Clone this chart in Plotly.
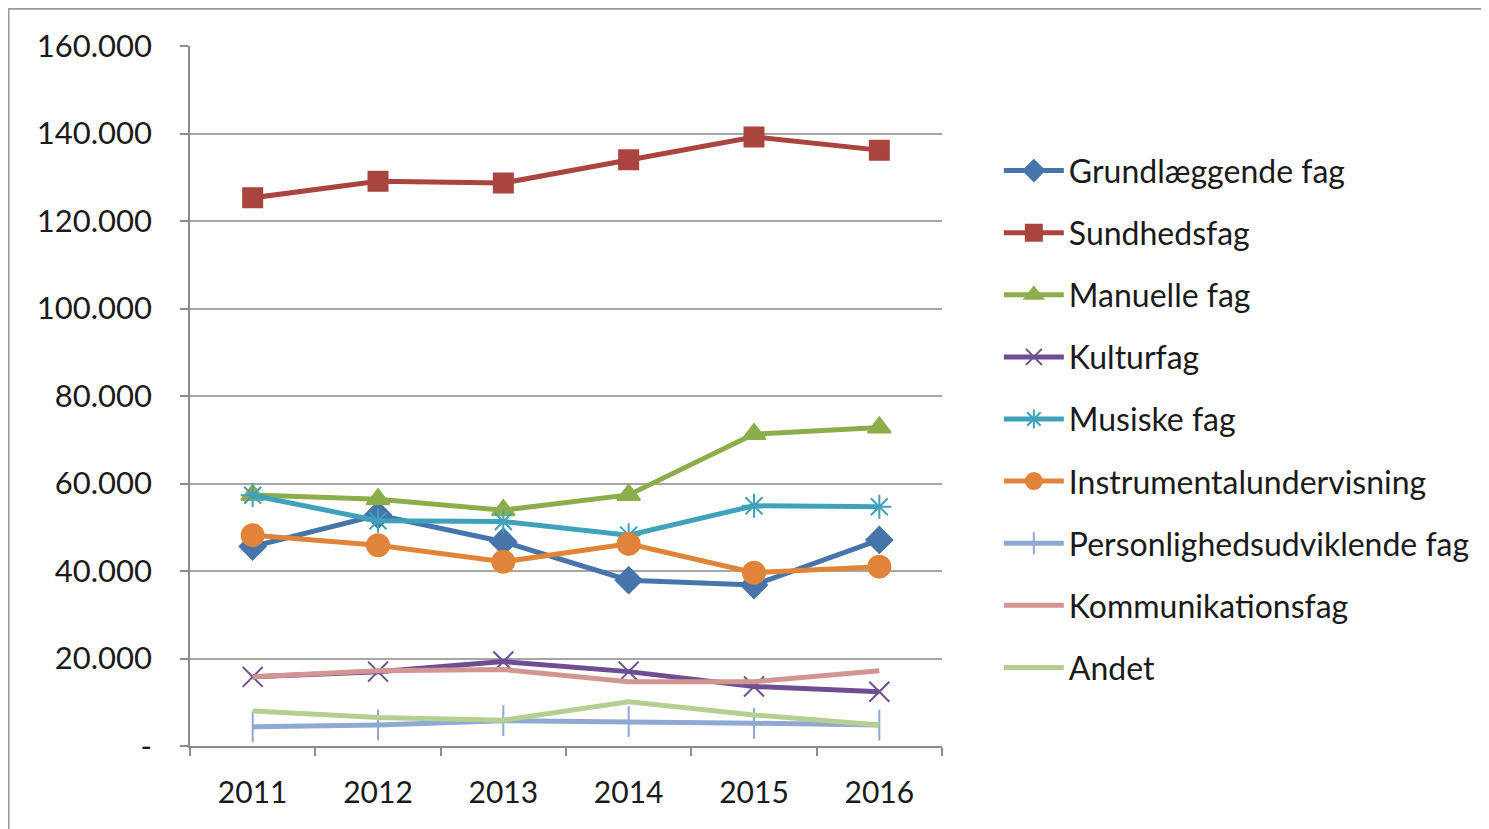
import plotly.graph_objects as go

years = ["2011", "2012", "2013", "2014", "2015", "2016"]

grundlaeggende = [45600, 52800, 46700, 37900, 36800, 47100]
sundhed = [125300, 129100, 128700, 134000, 139200, 136200]
manuelle = [57400, 56400, 53900, 57400, 71300, 72800]
kultur = [15800, 17000, 19300, 17000, 13600, 12400]
musiske = [57300, 51500, 51300, 48200, 54900, 54700]
instrumental = [48200, 45900, 42100, 46200, 39600, 41000]
personlighed = [4400, 4800, 5800, 5600, 5200, 4800]
kommunikation = [15800, 17200, 17500, 14700, 14700, 17200]
andet = [8000, 6500, 5900, 10100, 7100, 4800]

names = ["Grundlæggende fag", "Sundhedsfag", "Manuelle fag", "Kulturfag", "Musiske fag",
         "Instrumentalundervisning", "Personlighedsudviklende fag", "Kommunikationsfag", "Andet"]
series = [grundlaeggende, sundhed, manuelle, kultur, musiske, instrumental, personlighed, kommunikation, andet]
colors = ["#4674AB", "#A9443F", "#8CAD4B", "#6E4D92", "#3FA2BA", "#E0843A", "#8EA9D2", "#D39592", "#B4CF91"]
symbols = ["diamond", "square", "triangle-up", "x-thin-open", "asterisk-open", "circle",
           "line-ns-open", None, None]
sizes = [20, 19, 20, 20, 20, 22, 22, 0, 0]

y_ticks = [0, 20000, 40000, 60000, 80000, 100000, 120000, 140000, 160000]
y_labels = ["-", "20.000", "40.000", "60.000", "80.000", "100.000", "120.000", "140.000", "160.000"]

fig = go.Figure()
for name, vals, col, sym, sz in zip(names, series, colors, symbols, sizes):
    if sym is None:
        fig.add_trace(go.Scatter(x=years, y=vals, name=name, mode="lines", legendgroup=name,
                                 line=dict(color=col, width=5)))
    else:
        fig.add_trace(go.Scatter(x=years, y=vals, name=name, mode="lines+markers", legendgroup=name,
                                 line=dict(color=col, width=5),
                                 marker=dict(symbol=sym, size=sz, color=col,
                                             line=dict(color=col, width=2))))

font_family = "Lato, 'Open Sans', sans-serif"
fig.update_layout(
    width=1489, height=829,
    margin=dict(l=182, r=555, t=38, b=91),
    paper_bgcolor="white", plot_bgcolor="white",
    font=dict(family=font_family, size=30, color="#1a1a1a"),
    showlegend=True,
    legend=dict(x=1.0756, y=0.861, xanchor="left", yanchor="top",
                font=dict(size=32), tracegroupgap=17.5, itemwidth=60,
                traceorder="grouped", bgcolor="rgba(0,0,0,0)"),
    xaxis=dict(type="category", range=[-0.5, 5.5], tickson="boundaries",
               ticks="outside", ticklen=8, tickcolor="#8c8c8c", tickwidth=1.5,
               showline=True, linecolor="#8c8c8c", linewidth=1.5,
               showgrid=False, tickfont=dict(size=30), ticklabelstandoff=19),
    yaxis=dict(range=[0, 160000], tickvals=y_ticks, ticktext=y_labels,
               ticks="outside", ticklen=8, tickcolor="#8c8c8c", tickwidth=1.5,
               showline=True, linecolor="#8c8c8c", linewidth=1.5,
               showgrid=True, gridcolor="#a6a6a6", gridwidth=1.5,
               zeroline=False, ticklabelstandoff=22, tickfont=dict(size=31)),
)

fig.add_shape(type="rect", xref="paper", yref="paper",
              x0=-0.242, x1=2.0, y0=-0.2, y1=1.054,
              line=dict(color="#9a9a9a", width=3), fillcolor="rgba(0,0,0,0)", layer="below")

fig.write_html("out.html")
